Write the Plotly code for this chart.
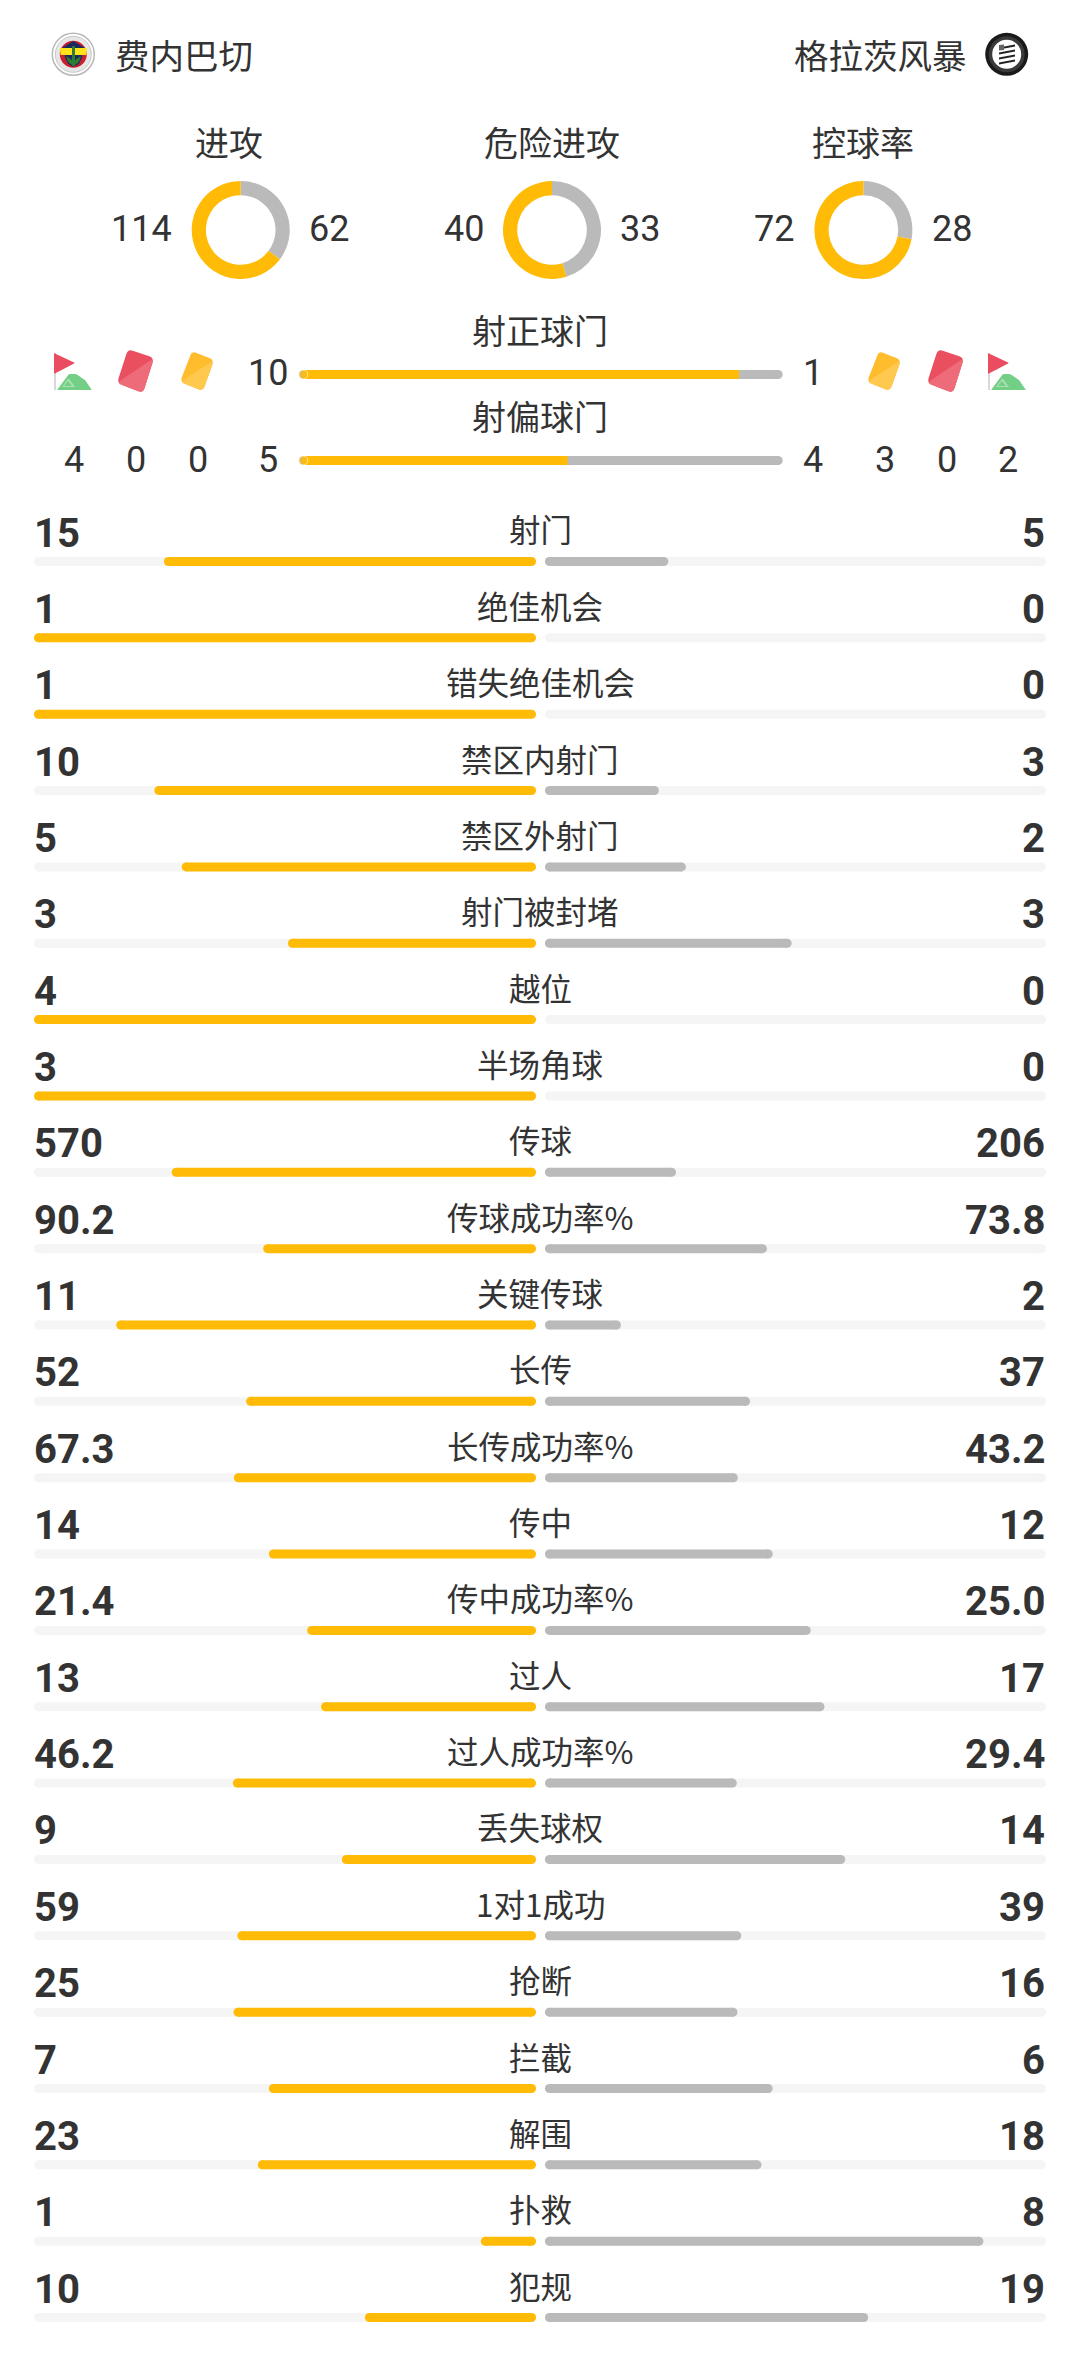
import math
import plotly.graph_objects as go

team_home = "费内巴切"
team_away = "格拉茨风暴"

donut_titles = ["进攻", "危险进攻", "控球率"]
donut_home = [114, 40, 72]
donut_away = [62, 33, 28]

top_titles = ["射正球门", "射偏球门"]
top_home = [10, 5]
top_away = [1, 4]
corners_home = 4
reds_home = 0
yellows_home = 0
yellows_away = 3
reds_away = 0
corners_away = 2

labels = ["射门", "绝佳机会", "错失绝佳机会", "禁区内射门", "禁区外射门", "射门被封堵", "越位", "半场角球",
          "传球", "传球成功率%", "关键传球", "长传", "长传成功率%", "传中", "传中成功率%", "过人",
          "过人成功率%", "丢失球权", "1对1成功", "抢断", "拦截", "解围", "扑救", "犯规"]
home_text = ["15", "1", "1", "10", "5", "3", "4", "3", "570", "90.2", "11", "52", "67.3", "14", "21.4", "13",
             "46.2", "9", "59", "25", "7", "23", "1", "10"]
away_text = ["5", "0", "0", "3", "2", "3", "0", "0", "206", "73.8", "2", "37", "43.2", "12", "25.0", "17",
             "29.4", "14", "39", "16", "6", "18", "8", "19"]

YELLOW = "#FFBB05"
GRAY = "#BABABA"
TRACK = "#F5F5F5"
INK = "#333333"
CJK = "Noto Sans CJK SC"
W = 1080
H = 2379
BAR = 9
CAP = 4.5 / 502
LEFT_MAX = 1.012  # bars run a little short of the track unless the share is full
RIGHT_MAX = 1.016


def px(x):
    return x / W


def py(y):
    return 1 - y / H


def add_text(text, x, y, size, family=CJK, anchor="center", bold=False, color=INK):
    if bold:
        text = "<b>" + text + "</b>"
    fig.add_annotation(text=text, x=px(x), y=py(y), xref="paper", yref="paper", showarrow=False,
                       xanchor=anchor, yanchor="middle", borderpad=0,
                       font=dict(size=size, family=family, color=color))


def round_path(pts, r):
    # polygon with rounded corners, in paper coords
    n = len(pts)
    d = ""
    for i in range(n):
        x0, y0 = pts[i - 1]
        x1, y1 = pts[i]
        x2, y2 = pts[(i + 1) % n]
        la = math.hypot(x0 - x1, y0 - y1)
        lb = math.hypot(x2 - x1, y2 - y1)
        ax = x1 + (x0 - x1) * min(r, la / 2) / la
        ay = y1 + (y0 - y1) * min(r, la / 2) / la
        bx = x1 + (x2 - x1) * min(r, lb / 2) / lb
        by = y1 + (y2 - y1) * min(r, lb / 2) / lb
        d += ("M" if i == 0 else "L") + f"{px(ax)},{py(ay)}"
        d += f"Q{px(x1)},{py(y1)} {px(bx)},{py(by)}"
    return d + "Z"


def add_poly(pts, color, r=0.0):
    fig.add_shape(type="path", path=round_path(pts, r), xref="paper", yref="paper",
                  fillcolor=color, line=dict(width=0))


def add_circle(cx, cy, r, color, line_color=None, line_width=0):
    fig.add_shape(type="circle", xref="paper", yref="paper", x0=px(cx - r), x1=px(cx + r),
                  y0=py(cy + r), y1=py(cy - r), fillcolor=color,
                  line=dict(width=line_width, color=line_color or color))


def add_card(dx, dark, light):
    pts = [(128 + dx, 349), (154 + dx, 358), (143 + dx, 393), (117 + dx, 383)]
    add_poly(pts, dark, 5)
    add_poly([pts[1], pts[2], pts[3]], light, 5)


def add_yellow_card(dx, dark, light):
    pts = [(192 + dx, 351), (214 + dx, 360), (203 + dx, 391), (180 + dx, 382)]
    add_poly(pts, dark, 5)
    add_poly([pts[1], pts[2], pts[3]], light, 5)


def add_flag(dx):
    add_poly([(54 + dx, 353), (56 + dx, 353), (56 + dx, 390), (54 + dx, 390)], "#D8D8D8")
    add_poly([(54 + dx, 353), (75 + dx, 363), (54 + dx, 374)], "#EA4C60", 1)
    add_poly([(57 + dx, 390), (69 + dx, 374), (76 + dx, 374), (85 + dx, 380), (92 + dx, 390)], "#73CF85", 1)
    add_poly([(62 + dx, 387), (68 + dx, 379), (69 + dx, 379), (75 + dx, 387)], "#A9E2B5")
    add_poly([(64 + dx, 386), (68 + dx, 381), (72 + dx, 386)], "#73CF85")


def add_bar_trace(xs, ys, axis, color, sizes=BAR):
    fig.add_trace(go.Scatter(x=xs, y=ys, xaxis=axis, yaxis="y", mode="lines+markers", cliponaxis=False,
                             line=dict(color=color, width=BAR), marker=dict(color=color, size=sizes),
                             hoverinfo="skip", showlegend=False))


fig = go.Figure()

rows_y = [561.5 + 76.35 * i for i in range(len(labels))]
top_y = [374.5, 460.5]

# track behind every stat row
left_x, left_y, right_x, right_y = [], [], [], []
for y in rows_y:
    left_x += [CAP, LEFT_MAX - CAP, None]
    left_y += [y, y, None]
    right_x += [CAP, RIGHT_MAX - CAP, None]
    right_y += [y, y, None]
add_bar_trace(left_x, left_y, "x", TRACK)
add_bar_trace(right_x, right_y, "x2", TRACK)

home_x, home_y, away_x, away_y = [], [], [], []
for i in range(len(labels)):
    h = float(home_text[i])
    a = float(away_text[i])
    if h > 0:
        end = LEFT_MAX if a == 0 else h / (h + a)
        home_x += [CAP, end - CAP, None]
        home_y += [rows_y[i], rows_y[i], None]
    if a > 0:
        away_x += [CAP, a / (h + a) - CAP, None]
        away_y += [rows_y[i], rows_y[i], None]
add_bar_trace(home_x, home_y, "x", YELLOW)
add_bar_trace(away_x, away_y, "x2", GRAY)

# the two shared bars under the donuts
for i in range(2):
    share = top_home[i] / (top_home[i] + top_away[i])
    add_bar_trace([0.01, 0.99], [top_y[i], top_y[i]], "x3", GRAY)
    add_bar_trace([0.01, share], [top_y[i], top_y[i]], "x3", YELLOW, [BAR, 0])

# donuts
donut_cx = [240.7, 552, 863.4]
for i in range(3):
    cx = donut_cx[i]
    fig.add_trace(go.Pie(values=[donut_away[i], donut_home[i]], sort=False, direction="clockwise", rotation=0,
                         hole=0.71, marker=dict(colors=[GRAY, YELLOW], line=dict(width=0)),
                         textinfo="none", hoverinfo="skip", showlegend=False,
                         domain=dict(x=[px(cx - 49), px(cx + 49)], y=[py(279), py(181)])))

fig.update_layout(
    width=W, height=H, margin=dict(l=0, r=0, t=0, b=0), paper_bgcolor="white", plot_bgcolor="rgba(0,0,0,0)",
    xaxis=dict(domain=[px(34), px(536)], range=[LEFT_MAX, 0], visible=False, fixedrange=True),
    xaxis2=dict(domain=[px(545), px(1046)], range=[0, RIGHT_MAX], visible=False, fixedrange=True, anchor="y"),
    xaxis3=dict(domain=[px(298.5), px(783)], range=[0, 1], visible=False, fixedrange=True, anchor="y"),
    yaxis=dict(domain=[0, 1], range=[H, 0], visible=False, fixedrange=True),
)

# header
add_text(team_home, 114, 54, 34.5, anchor="left")
add_text(team_away, 967.5, 54, 34.5, anchor="right")

# home crest
add_circle(73.3, 54.3, 21, "white", "#B8B8B8", 1.5)
add_circle(73.3, 54.3, 18, "#E6E6E6", "#C8C8C8", 1)
add_circle(73.3, 54.3, 13.5, "#C8202F")
add_poly([(62, 48), (73.3, 41), (85, 48)], "#1B2A5C")
add_poly([(60, 48), (87, 48), (86.5, 55), (60.5, 55)], "#FFE21A")
add_poly([(64, 55), (83, 55), (79, 64), (73.3, 67), (68, 64)], "#1B2A5C", 2)
add_poly([(72, 46), (75, 46), (75, 66), (72, 66)], "#2E7D32", 1)
add_poly([(66, 56), (72, 60), (72, 65), (68, 62)], "#2E7D32", 1)
add_poly([(81, 56), (75, 60), (75, 65), (79, 62)], "#2E7D32", 1)

# away crest
add_circle(1006.7, 54.3, 21.5, "#1A1A1A")
add_circle(1006.7, 54.3, 18, "#3A3A3A")
add_circle(1006.7, 54.3, 14.5, "white")
for k in range(4):
    add_poly([(999, 47.5 + 5 * k), (1015, 44.5 + 5 * k), (1015, 46.5 + 5 * k), (999, 49.5 + 5 * k)], "#222222")
add_poly([(999, 45), (1004, 44.5), (1004, 50), (999, 50.5)], "#666666")

# donut texts
title_cx = [229, 552, 863.4]
home_num_right = [173, 484.5, 795]
away_num_left = [308, 618.6, 931]
for i in range(3):
    add_text(donut_titles[i], title_cx[i], 142, 34)
    add_text(str(donut_home[i]), home_num_right[i], 229, 36, "Roboto", "right")
    add_text(str(donut_away[i]), away_num_left[i], 229, 36, "Roboto", "left")

# shared bar texts and icons
add_text(top_titles[0], 539.5, 329, 34)
add_text(top_titles[1], 539.5, 415, 34)
add_text(str(top_home[0]), 267.6, 373, 36, "Roboto")
add_text(str(top_away[0]), 813, 373, 36, "Roboto")
add_text(str(top_home[1]), 267.6, 460, 36, "Roboto")
add_text(str(top_away[1]), 813, 460, 36, "Roboto")
add_text(str(corners_home), 74, 460, 36, "Roboto")
add_text(str(reds_home), 136, 460, 36, "Roboto")
add_text(str(yellows_home), 198, 460, 36, "Roboto")
add_text(str(yellows_away), 885, 460, 36, "Roboto")
add_text(str(reds_away), 947, 460, 36, "Roboto")
add_text(str(corners_away), 1008, 460, 36, "Roboto")

add_flag(0)
add_card(0, "#EA4F60", "#EE6B79")
add_yellow_card(0, "#FFBC2C", "#FFC94F")
add_yellow_card(687, "#FFBC2C", "#FFC94F")
add_card(810, "#EA4F60", "#EE6B79")
add_flag(934)

# stat rows
for i in range(len(labels)):
    add_text(labels[i], 540, rows_y[i] - 33, 31.5)
    add_text(home_text[i], 33, rows_y[i] - 28.5, 40, "Roboto", "left", bold=True)
    add_text(away_text[i], 1046, rows_y[i] - 28.5, 40, "Roboto", "right", bold=True)

fig.write_html("out.html", post_script="document.body.style.margin='0'", config=dict(displayModeBar=False))
